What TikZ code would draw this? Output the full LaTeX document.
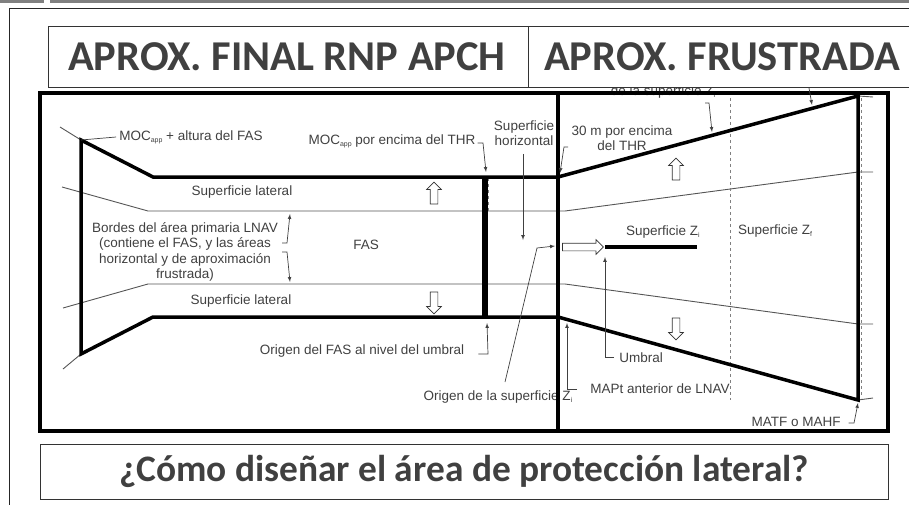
\documentclass[tikz,border=0pt]{standalone}
\usepackage{fontspec}
\setmainfont{Liberation Sans}
\newfontfamily\titlefont{Carlito}
\usetikzlibrary{shapes.arrows}
\definecolor{ink}{HTML}{404040}
\definecolor{wire}{HTML}{555555}
\newcommand{\lowtext}[1]{\raisebox{-2pt}{\fontsize{7}{8}\selectfont #1}}
\begin{document}
\begin{tikzpicture}[x=1pt,y=-1pt,
    lbl/.style={inner sep=0pt,text=ink,font=\fontsize{13.5}{15.5}\selectfont,align=center},
    heading/.style={inner sep=0pt,text=ink,font=\titlefont\bfseries\fontsize{42.5}{48}\selectfont},
    wall/.style={line width=3.5pt,black},
    edgeline/.style={line width=0.9pt,wire},
    leader/.style={line width=0.7pt,black!75,-latex},
    cut/.style={line width=1pt,gray,dashed},
    blockarrow/.style={single arrow,draw=black!80,fill=white,line width=0.7pt,inner sep=0pt,
      minimum height=22pt,single arrow head extend=3.5pt,rotate=#1}]
    \useasboundingbox (0,0) rectangle (909,505);
    % page furniture
    \fill[gray] (0,0) rectangle (44,3);
    \fill[gray] (50,0) rectangle (909,3);
    \draw[line width=1pt,black!85] (909,9) -- (9,9) -- (9,505);
    % corners of the surface
    \coordinate (A) at (81,140);
    \coordinate (B) at (153,177);
    \coordinate (C) at (558,177);
    \coordinate (D) at (858,96);
    \coordinate (E) at (858,400);
    \coordinate (F) at (558,317);
    \coordinate (G) at (153,317);
    \coordinate (H) at (81,354);
    \coordinate (T1) at (485,177);
    \coordinate (T2) at (485,317);
    % primary area borders
    \draw[edgeline] (62,187) -- (148,211) -- (565,211) -- (858,172) -- (873,172);
    \draw[edgeline] (63,308) -- (148,284) -- (565,284) -- (858,324) -- (873,324);
    \draw[edgeline] (60,127) -- (A);
    \draw[edgeline] (H) -- (63,369);
    \draw[edgeline] (D) -- (873,97);
    \draw[edgeline] (E) -- (873,398);
    \draw[cut] (730,98) -- (730,400);
    \draw[cut] (861,98) -- (861,398);
    \draw[cut] (488,178) -- (488,211);
    % labels
    \node[lbl] (moc) at (191,137) {MOC\lowtext{app} + altura del FAS};
    \node[lbl] (thr) at (392,141) {MOC\lowtext{app} por encima del THR};
    \node[lbl] (horiz) at (524,133) {Superficie\\horizontal};
    \node[lbl] (m30) at (622,138) {30 m por encima\\del THR};
    \node[lbl] (orig) at (663,92) {de la superficie Z\lowtext{i}};
    \node[lbl] (latA) at (242,192) {Superficie lateral};
    \node[lbl] (latB) at (241,301) {Superficie lateral};
    \node[lbl] (bordes) at (185,252) {Bordes del área primaria LNAV\\(contiene el FAS, y las áreas\\horizontal y de aproximación\\frustrada)};
    \node[lbl] (fas) at (366,245) {FAS};
    \node[lbl] (zi) at (663,232) {Superficie Z\lowtext{i}};
    \node[lbl] (zf) at (775,231) {Superficie Z\lowtext{f}};
    \node[lbl] (ofas) at (362,351) {Origen del FAS al nivel del umbral};
    \node[lbl] (ozi) at (498,397) {Origen de la superficie Z\lowtext{i}};
    \node[lbl] (umb) at (641,358) {Umbral};
    \node[lbl] (mapt) at (660,389) {MAPt anterior de LNAV};
    \node[lbl] (matf) at (796,422) {MATF o MAHF};
    % heading boxes
    \fill[white] (48,26) rectangle (909,87);
    \draw[line width=0.9pt,black!80] (909,26) -- (48,26) -- (48,87) -- (909,87);
    \draw[line width=0.9pt,black!80] (528,26) -- (528,87);
    \node[heading] (final) at (287,57) {APROX. FINAL RNP APCH};
    \node[heading] (frus) at (722,57) {APROX. FRUSTRADA};
    \node[draw=black!80,line width=0.9pt,minimum width=848pt,minimum height=55pt,inner sep=0pt] (box) at (464,471.5) {};
    \node[heading,font=\titlefont\bfseries\fontsize{37.4}{42}\selectfont] (q) at (box.center) {¿Cómo diseñar el área de protección lateral?};
    % surface outline and frame
    \draw[wall,line join=miter] (A) -- (B) -- (C) -- (D) -- (E) -- (F) -- (G) -- (H) -- cycle;
    \draw[line width=5.5pt] (T1) -- (T2);
    \draw[wall] (40,93) rectangle (888,431);
    \draw[wall] (558,93) -- (558,431);
    \draw[line width=4pt] (605,247) -- (697,247);
    % block arrows
    \node[blockarrow=90] (upA) at (434,195) {\rule{0pt}{7pt}};
    \node[blockarrow=270] (dnA) at (434,301) {\rule{0pt}{7pt}};
    \node[blockarrow=90] (upB) at (676,171) {\rule{0pt}{7pt}};
    \node[blockarrow=270] (dnB) at (676,327) {\rule{0pt}{7pt}};
    \node[blockarrow=0,minimum height=41pt] (rgt) at (581,247) {\rule{0pt}{7pt}};
    % leaders
    \coordinate (a1) at (483,143);
    \coordinate (a2) at (486,172);
    \coordinate (a3) at (523,240);
    \coordinate (a4) at (564,147);
    \coordinate (a5) at (560,173);
    \coordinate (a6) at (709,103);
    \coordinate (a7) at (712,132);
    \coordinate (a8) at (812,105);
    \coordinate (a9) at (287,243);
    \coordinate (a10) at (290,214);
    \coordinate (a11) at (287,252);
    \coordinate (a12) at (290,282);
    \coordinate (a13) at (487,323);
    \coordinate (a14) at (537,248);
    \coordinate (a15) at (555,246);
    \coordinate (a16) at (605,257);
    \coordinate (a17) at (567,323);
    \coordinate (a18) at (854,423);
    \coordinate (a19) at (858,403);
    \draw[line width=0.7pt,black!75] (moc.west) ++(-3,0) -- (A);
    \draw[leader] (thr.east) ++(2,2) -- (a1) -- (a2);
    \draw[leader] (horiz.south) ++(-1,8) -- (a3);
    \draw[leader] (568,147) -- (a4) -- (a5);
    \draw[leader] (705,103) -- (a6) -- (a7);
    \draw[leader] (809,88) -- (a8);
    \draw[leader] (282,243) -- (a9) -- (a10);
    \draw[leader] (282,252) -- (a11) -- (a12);
    \draw[leader] (ofas.east) ++(14,3) -- (488,354) -- (a13);
    \draw[leader] (505,382) -- (a14) -- (a15);
    \draw[leader] (umb.west) ++(-5,-1) -- (605,357) -- (a16);
    \draw[leader] (mapt.west) ++(-13,0) -- (567,389) -- (a17);
    \draw[leader] (matf.east) ++(8,1) -- (a18) -- (a19);
  \end{tikzpicture}
\end{document}
